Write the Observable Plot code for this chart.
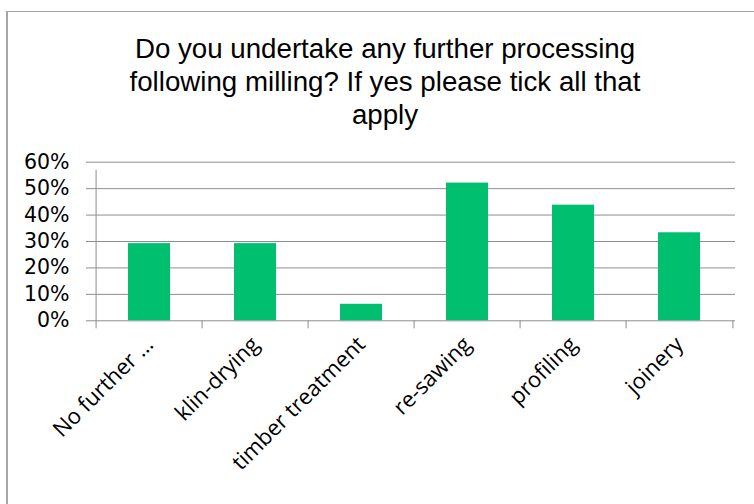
<!DOCTYPE html>
<html><head><meta charset="utf-8">
<script src="https://cdn.jsdelivr.net/npm/d3@7"></script>
<script src="https://cdn.jsdelivr.net/npm/@observablehq/plot@0.6"></script>
<style>
body{margin:0;background:#fff;width:754px;height:504px;position:relative;overflow:hidden}
#frame{position:absolute;left:6px;top:11px;width:800px;height:600px;border-left:2px solid #a6a6a6;border-top:1px solid #a6a6a6;box-sizing:border-box}
#title{position:absolute;left:0;top:32px;width:754px;box-sizing:border-box;padding-left:16px;text-align:center;font-family:"Liberation Sans",Arial,sans-serif;font-size:27.7px;line-height:33px;color:#000}
#chart{position:absolute;left:0;top:140px}
#chart svg{display:block}
</style></head><body>
<div id="frame"></div>
<div id="title">Do you undertake any further processing<br>following milling? If yes please tick all that<br>apply</div>
<div id="chart"></div>
<script>
const categories = ["No further …", "klin-drying", "timber treatment", "re-sawing", "profiling", "joinery"];
const values = [0.292, 0.292, 0.0625, 0.521, 0.4375, 0.333];
const yTicks = [0, 0.1, 0.2, 0.3, 0.4, 0.5, 0.6];

const data = categories.map((c, i) => ({category: c, value: values[i]}));
const W = 754, H = 364, ML = 94, MR = 19, MT = 21.7, MB = 183.7;
const step = (W - ML - MR) / categories.length;
const grey = "#8e8e8e";

const chart = Plot.plot({
  width: W, height: H, marginLeft: ML, marginRight: MR, marginTop: MT, marginBottom: MB,
  style: {fontFamily: "'Open Sans', sans-serif", fontSize: "22px", color: "#000", background: "transparent", overflow: "visible"},
  x: {domain: categories, paddingInner: 0.6, paddingOuter: 0.3, label: null},
  y: {domain: [0, 0.6], label: null},
  marks: [
    Plot.ruleY(yTicks, {stroke: grey, strokeWidth: 1, insetLeft: -8}),
    Plot.ruleX([categories[0]], {x: d => d, dx: -step / 2, y1: 0, y2: 0.6, insetBottom: -8, stroke: grey}),
    Plot.ruleX(categories, {x: d => d, dx: -step / 2, y1: 0, y2: 0, insetBottom: -8, stroke: grey}),
    Plot.ruleX([categories[categories.length - 1]], {x: d => d, dx: step / 2, y1: 0, y2: 0, insetBottom: -8, stroke: grey}),
    Plot.barY(data, {x: "category", y: "value", fill: "#00BF6F"}),
    Plot.axisY(yTicks, {tickFormat: d3.format(".0%"), tickSize: 0, tickPadding: 25, fontSize: 20.5, fontFamily: "'DejaVu Sans', sans-serif", fill: "#000"}),
    Plot.axisX({tickSize: 0, tickRotate: -45, tickPadding: 20, fontSize: 22, fill: "#000"})
  ]
});
document.getElementById("chart").appendChild(chart);
</script>
</body></html>
